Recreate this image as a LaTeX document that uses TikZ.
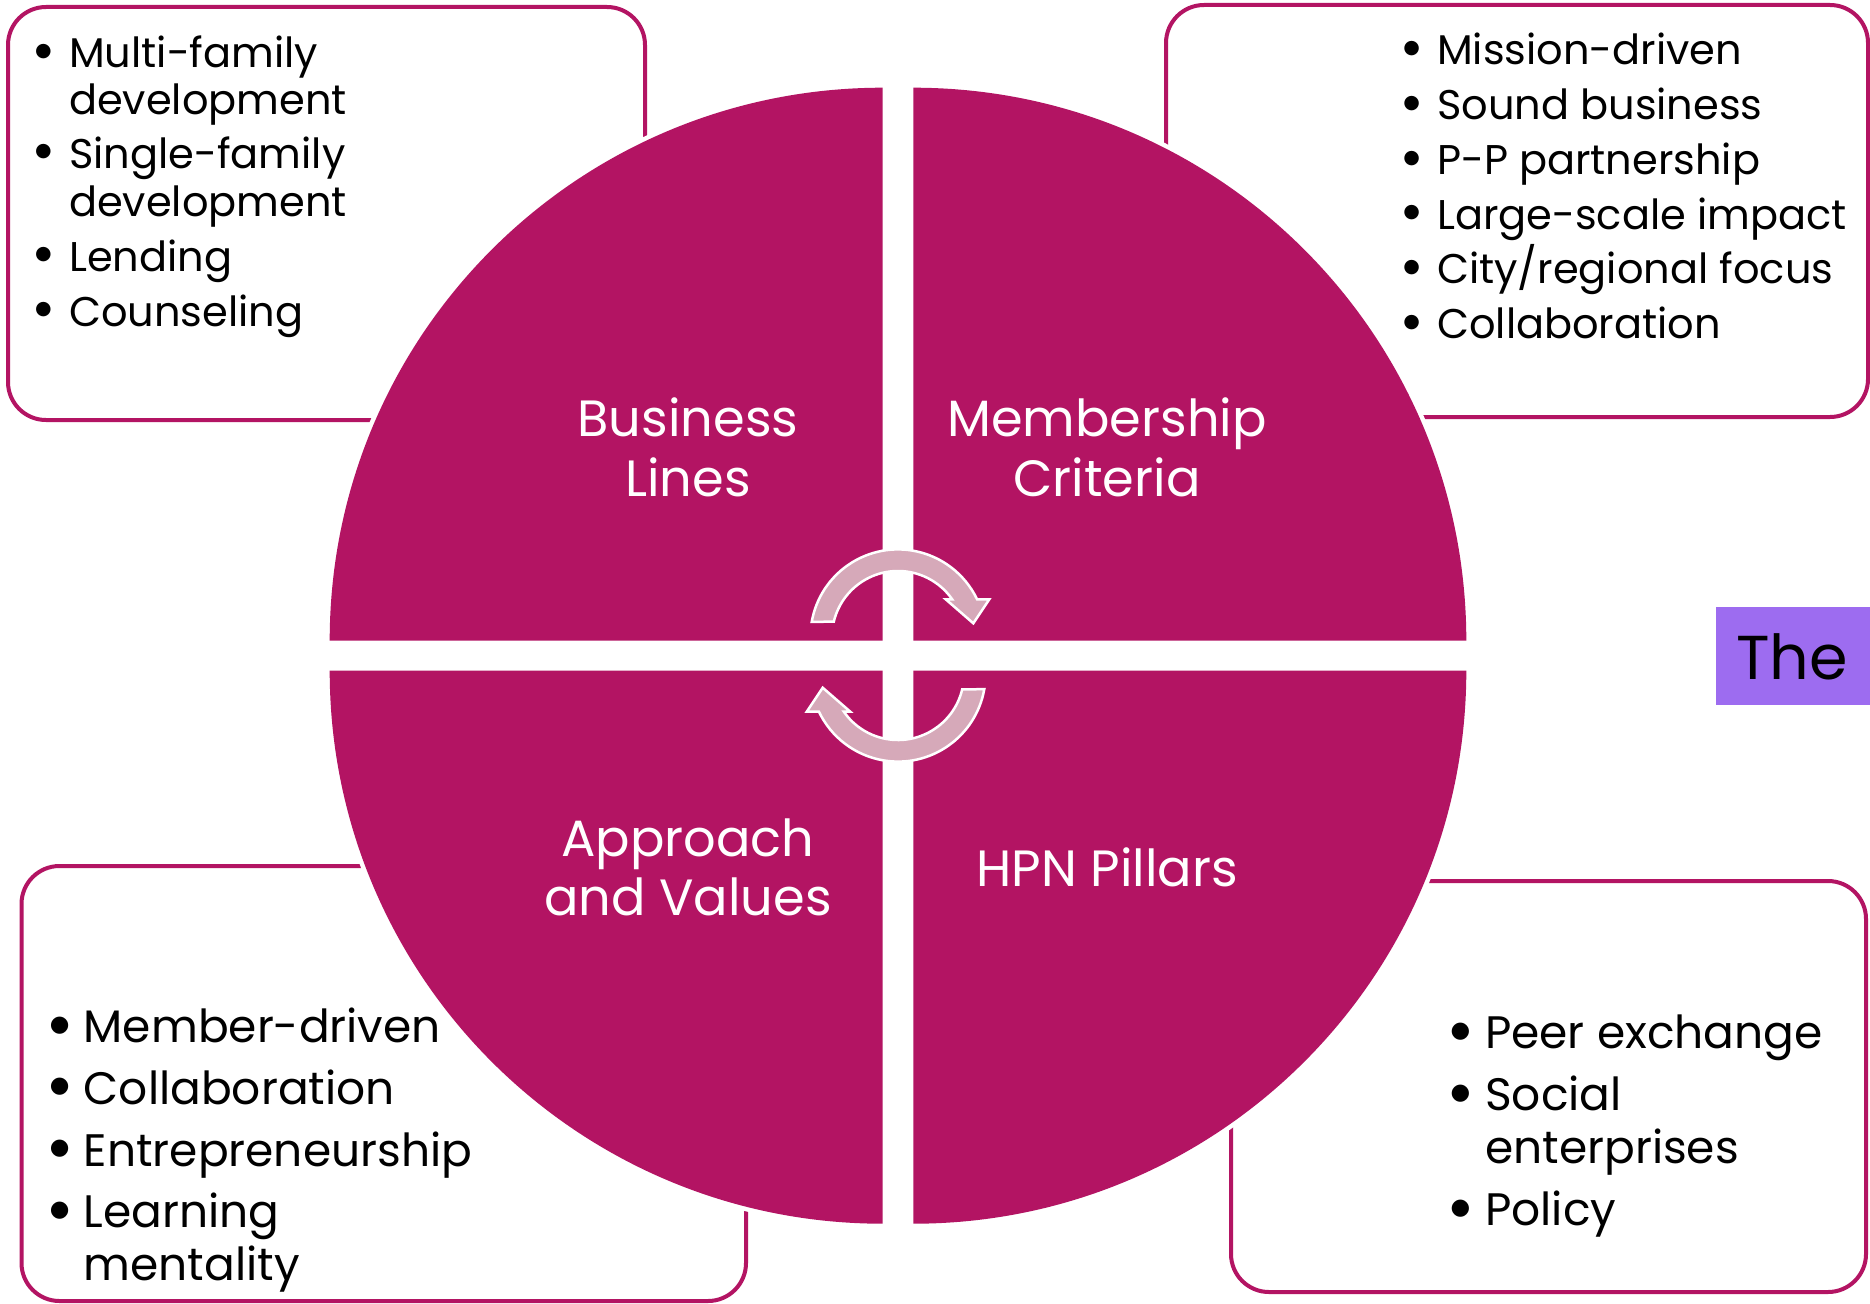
\documentclass[tikz,border=0pt]{standalone}
\usepackage{fontspec}
\setmainfont{Poppins}
\newfontfamily\bulfont{DejaVu Sans}
\definecolor{mag}{HTML}{B31463}
\definecolor{arrfill}{HTML}{D6A9B9}
\definecolor{purp}{HTML}{9D6CF0}
\begin{document}
\begin{tikzpicture}[x=1pt,y=-1pt,
  infobox/.style={draw=mag, line width=4pt, rounded corners=38pt},
  quad/.style={fill=mag, preaction={draw=white, line width=9pt}},
  cyc/.style={fill=arrfill, draw=white, line width=2.5pt, line join=miter},
  lbl/.style={text=white, align=center, inner sep=0pt, font=\fontsize{51}{56}\selectfont},
  itxt/.style={anchor=base west, inner sep=0pt, font=\fontsize{41.5}{48}\selectfont},
  ibul/.style={anchor=center, inner sep=0pt, font=\bulfont\fontsize{19}{19}\selectfont},
  btxt/.style={anchor=base west, inner sep=0pt, font=\fontsize{45.5}{52}\selectfont},
  bbul/.style={anchor=center, inner sep=0pt, font=\bulfont\fontsize{22.5}{22.5}\selectfont}]
\useasboundingbox (0,0) rectangle (1870,1303);
\fill[white] (0,0) rectangle (1870,1303);

% side boxes
\draw[infobox] (8,7) rectangle (645,420);
\draw[infobox] (1166,5) rectangle (1868,417);
\draw[infobox] (21.5,866) rectangle (746,1301);
\draw[infobox] (1231,881) rectangle (1866,1292);

% quadrants
\path[quad] (882.7,640.7) -- ++(-553,0) arc[start angle=180,end angle=270,radius=553] -- cycle;
\path[quad] (913.3,640.7) -- ++(0,-553) arc[start angle=270,end angle=360,radius=553] -- cycle;
\path[quad] (913.3,670.7) -- ++(553,0) arc[start angle=0,end angle=90,radius=553] -- cycle;
\path[quad] (882.7,670.7) -- ++(0,553) arc[start angle=90,end angle=180,radius=553] -- cycle;

% cycle arrows (relative to the diagram centre)
\begin{scope}[shift={(898,655.5)}]
\path[cyc] (-86.27,-33.71) arc[start angle=190,end angle=334.5,radius=87.6]
  -- (91.3,-56.2) -- (75.3,-32.2) -- (47.7,-56.2)
  -- (54.19,-56.17) arc[start angle=325.2,end angle=193.4,radius=66] -- cycle;
\end{scope}
\begin{scope}[shift={(898,655.5)}, rotate=180]
\path[cyc] (-86.27,-33.71) arc[start angle=190,end angle=334.5,radius=87.6]
  -- (91.3,-56.2) -- (75.3,-32.2) -- (47.7,-56.2)
  -- (54.19,-56.17) arc[start angle=325.2,end angle=193.4,radius=66] -- cycle;
\end{scope}

% quadrant labels
\node[lbl, anchor=base] (bl1) at (688,436.5) {Business};
\node[lbl, anchor=base] (bl2) at (688,496) {Lines};
\node[lbl, anchor=base] (mc1) at (1107,436.5) {Membership};
\node[lbl, anchor=base] (mc2) at (1107,496) {Criteria};
\node[lbl, anchor=base] (av1) at (688,856) {Approach};
\node[lbl, anchor=base] (av2) at (688,915) {and Values};
\node[lbl, anchor=base] (hp1) at (1107,886) {HPN Pillars};

% top-left list
\node[ibul] (tlb1) at (43.5,52) {●};
\node[itxt] (tl1) at (69,68) {Multi-family};
\node[itxt] (tl1b) at (69,115) {development};
\node[ibul] (tlb2) at (43.5,152) {●};
\node[itxt] (tl2) at (69,168) {Single-family};
\node[itxt] (tl2b) at (69,216) {development};
\node[ibul] (tlb3) at (43.5,255) {●};
\node[itxt] (tl3) at (69,271) {Lending};
\node[ibul] (tlb4) at (43.5,310) {●};
\node[itxt] (tl4) at (69,326) {Counseling};

% top-right list
\node[ibul] (trb1) at (1411.7,49) {●};
\node[itxt] (tr1) at (1437,65) {Mission-driven};
\node[ibul] (trb2) at (1411.7,103.7) {●};
\node[itxt] (tr2) at (1437,119.7) {Sound business};
\node[ibul] (trb3) at (1411.7,158.3) {●};
\node[itxt] (tr3) at (1437,174.3) {P-P partnership};
\node[ibul] (trb4) at (1411.7,213) {●};
\node[itxt] (tr4) at (1437,229) {Large-scale impact};
\node[ibul] (trb5) at (1411.7,267.7) {●};
\node[itxt] (tr5) at (1437,283.7) {City/regional focus};
\node[ibul] (trb6) at (1411.7,322.4) {●};
\node[itxt] (tr6) at (1437,338.4) {Collaboration};

% bottom-left list
\node[bbul] (blb1) at (59.7,1025.5) {●};
\node[btxt] (bll1) at (83.6,1042.7) {Member-driven};
\node[bbul] (blb2) at (59.7,1086.8) {●};
\node[btxt] (bll2) at (83.6,1104) {Collaboration};
\node[bbul] (blb3) at (59.7,1148.8) {●};
\node[btxt] (bll3) at (83.6,1166) {Entrepreneurship};
\node[bbul] (blb4) at (59.7,1210.5) {●};
\node[btxt] (bll4) at (83.6,1227.7) {Learning};
\node[btxt] (bll4b) at (83.6,1280) {mentality};

% bottom-right list
\node[bbul] (brb1) at (1460.5,1031.5) {●};
\node[btxt] (brl1) at (1485,1048.3) {Peer exchange};
\node[bbul] (brb2) at (1460.5,1093.2) {●};
\node[btxt] (brl2) at (1485,1110) {Social};
\node[btxt] (brl2b) at (1485,1163.3) {enterprises};
\node[bbul] (brb3) at (1460.5,1208.2) {●};
\node[btxt] (brl3) at (1485,1225) {Policy};

% partial title box on the right
\fill[purp] (1716,607) rectangle (1872,705);
\node[anchor=base west, inner sep=0pt, font=\fontsize{62}{66}\selectfont] (ttl) at (1736,679) {The};
\end{tikzpicture}
\end{document}
